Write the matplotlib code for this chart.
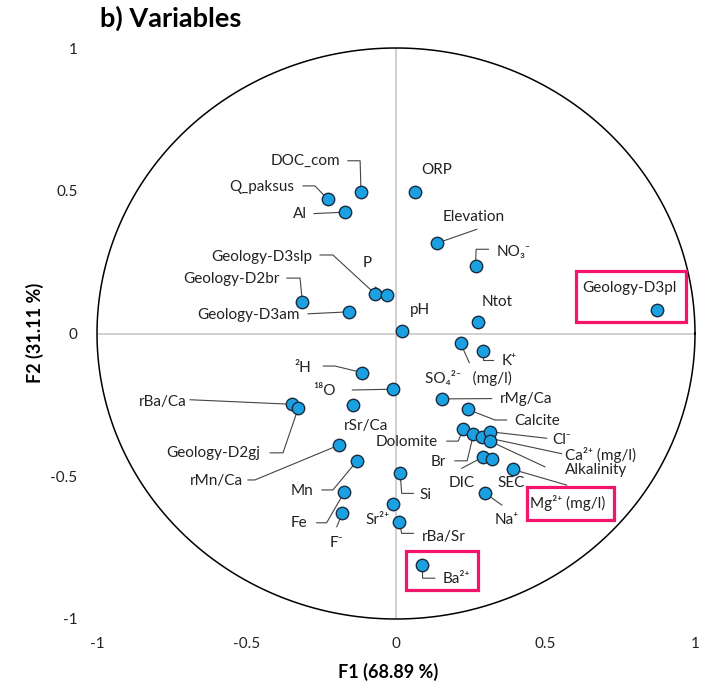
""" PCA correlation circle (variables), F1 vs F2
"""

import numpy as np
import matplotlib
matplotlib.use('Agg')
import matplotlib.pyplot as plt
from matplotlib.patches import Rectangle

plt.rcParams['font.family'] = ['Lato', 'DejaVu Sans']

# Variable names and loadings on F1 / F2
names = ['DOC_com', 'Q_paksus', 'Al', 'Geology-D3slp', 'P', 'Geology-D2br',
         'Geology-D3am', 'pH', 'ORP', 'Elevation', 'NO3', 'Ntot',
         'Geology-D3pl', 'SO4', 'K', 'rMg/Ca', 'Calcite', 'Dolomite', 'Br',
         'Ca', 'Cl', 'Alkalinity', 'DIC', 'SEC', 'Mg', 'Na', '2H', '18O',
         'rSr/Ca', 'rBa/Ca', 'Geology-D2gj', 'rMn/Ca', 'Mn', 'Fe', 'F',
         'Si', 'Sr', 'rBa/Sr', 'Ba']
f1 = [-0.117, -0.228, -0.171, -0.070, -0.031, -0.313,
      -0.156, 0.020, 0.064, 0.136, 0.266, 0.275,
      0.874, 0.216, 0.290, 0.154, 0.240, 0.225, 0.259,
      0.287, 0.314, 0.314, 0.292, 0.320, 0.390, 0.299, -0.113, -0.011,
      -0.143, -0.347, -0.327, -0.191, -0.131, -0.173, -0.180,
      0.014, -0.009, 0.011, 0.088]
f2 = [0.495, 0.470, 0.425, 0.139, 0.135, 0.109,
      0.076, 0.009, 0.495, 0.316, 0.235, 0.039,
      0.081, -0.034, -0.060, -0.229, -0.266, -0.334, -0.353,
      -0.361, -0.344, -0.377, -0.432, -0.440, -0.476, -0.560, -0.137, -0.195,
      -0.250, -0.248, -0.262, -0.391, -0.447, -0.556, -0.630,
      -0.490, -0.598, -0.659, -0.811]

ticks = [-1, -0.5, 0, 0.5, 1]
tick_labels = ['-1', '-0.5', '0', '0.5', '1']
title = 'b) Variables'
xlab = 'F1 (68.89 %)'
ylab = 'F2 (31.11 %)'

# Label layout: text, (x, y), ha, leader vertices (label side first)
layout = {
    'DOC_com': ('DOC_com', (-0.187, 0.605), 'right', [(-0.161, 0.605), (-0.120, 0.605)]),
    'Q_paksus': ('Q_paksus', (-0.341, 0.512), 'right', [(-0.311, 0.517), (-0.271, 0.517)]),
    'Al': ('Al', (-0.298, 0.419), 'right', [(-0.274, 0.420)]),
    'Geology-D3slp': ('Geology-D3slp', (-0.281, 0.269), 'right', [(-0.254, 0.275), (-0.211, 0.275)]),
    'P': ('P', (-0.095, 0.246), 'center', [(-0.070, 0.163)]),
    'Geology-D2br': ('Geology-D2br', (-0.388, 0.190), 'right', [(-0.365, 0.194), (-0.321, 0.194)]),
    'Geology-D3am': ('Geology-D3am', (-0.321, 0.065), 'right', [(-0.294, 0.069)]),
    'pH': ('pH', (0.047, 0.082), 'left', []),
    'ORP': ('ORP', (0.086, 0.573), 'left', []),
    'Elevation': ('Elevation', (0.157, 0.409), 'left', [(0.270, 0.365)]),
    'NO3': ('NO\u2083\u207b', (0.337, 0.287), 'left', [(0.309, 0.295), (0.268, 0.295)]),
    'Ntot': ('Ntot', (0.287, 0.109), 'left', []),
    'Geology-D3pl': ('Geology-D3pl', (0.624, 0.158), 'left', []),
    'SO4': ('SO\u2084\u00b2\u207b   (mg/l)', (0.241, -0.157), 'center', [(0.245, -0.102)]),
    'K': ('K\u207a', (0.354, -0.095), 'left', [(0.325, -0.093), (0.290, -0.093)]),
    'rMg/Ca': ('rMg/Ca', (0.348, -0.229), 'left', [(0.320, -0.228)]),
    'Calcite': ('Calcite', (0.395, -0.306), 'left', [(0.370, -0.303), (0.331, -0.303)]),
    'Dolomite': ('Dolomite', (0.140, -0.380), 'right', [(0.170, -0.377), (0.208, -0.377)]),
    'Br': ('Br', (0.167, -0.449), 'right', [(0.197, -0.446), (0.238, -0.446)]),
    'Ca': ('Ca\u00b2\u207a (mg/l)', (0.565, -0.424), 'left', [(0.554, -0.421)]),
    'Cl': ('Cl\u207b', (0.521, -0.373), 'left', [(0.504, -0.367)]),
    'Alkalinity': ('Alkalinity', (0.565, -0.478), 'left', [(0.498, -0.467)]),
    'DIC': ('DIC', (0.264, -0.524), 'right', [(0.220, -0.472)]),
    'SEC': ('SEC', (0.338, -0.524), 'left', []),
    'Mg': ('Mg\u00b2\u207a (mg/l)', (0.448, -0.593), 'left', [(0.571, -0.531)]),
    'Na': ('Na\u207a', (0.331, -0.653), 'left', [(0.354, -0.601)]),
    '2H': ('\u00b2H', (-0.284, -0.121), 'right', [(-0.243, -0.114), (-0.204, -0.114)]),
    '18O': ('\u00b9\u2078O', (-0.201, -0.201), 'right', [(-0.146, -0.198)]),
    'rSr/Ca': ('rSr/Ca', (-0.100, -0.324), 'center', []),
    'rBa/Ca': ('rBa/Ca', (-0.699, -0.239), 'right', [(-0.689, -0.232)]),
    'Geology-D2gj': ('Geology-D2gj', (-0.455, -0.420), 'right', [(-0.421, -0.418), (-0.378, -0.418)]),
    'rMn/Ca': ('rMn/Ca', (-0.512, -0.517), 'right', [(-0.495, -0.513), (-0.472, -0.513)]),
    'Mn': ('Mn', (-0.278, -0.551), 'right', [(-0.248, -0.548), (-0.211, -0.548)]),
    'Fe': ('Fe', (-0.298, -0.664), 'right', [(-0.265, -0.663), (-0.232, -0.663)]),
    'F': ('F\u207b', (-0.199, -0.733), 'center', [(-0.198, -0.677)]),
    'Si': ('Si', (0.080, -0.566), 'left', [(0.058, -0.560), (0.019, -0.560)]),
    'Sr': ('Sr\u00b2\u207a', (-0.020, -0.653), 'right', []),
    'rBa/Sr': ('rBa/Sr', (0.086, -0.712), 'left', [(0.058, -0.700), (0.019, -0.700)]),
    'Ba': ('Ba\u00b2\u207a', (0.157, -0.860), 'left', [(0.130, -0.857), (0.089, -0.857)]),
}
# Highlight boxes: (x0, x1, y0, y1)
boxes = [(0.602, 0.970, 0.041, 0.220),
         (0.437, 0.730, -0.653, -0.537),
         (0.033, 0.273, -0.898, -0.761)]

fig = plt.figure(figsize=(7.1, 6.85), dpi=100)
ax = fig.add_axes([97 / 710., 1 - 619 / 685., 598 / 710., 571 / 685.])
ax.set_xlim(-1, 1)
ax.set_ylim(-1, 1)
for s in ax.spines.values():
    s.set_visible(False)
ax.set_xticks(ticks)
ax.set_xticklabels(tick_labels)
ax.set_yticks(ticks)
ax.set_yticklabels(tick_labels)
ax.tick_params(length=0, labelsize=11, colors='#222222')
ax.tick_params(axis='x', pad=13)
ax.tick_params(axis='y', pad=14)

# Axes cross and circle
ax.axhline(0, color='#c8c8c8', lw=1.2, zorder=0)
ax.axvline(0, color='#c8c8c8', lw=1.2, zorder=0)
th = np.linspace(0, 2 * np.pi, 500)
ax.plot(np.cos(th), np.sin(th), color='black', lw=1.1, clip_on=False)

# Leader lines and labels
for nm, x, y in zip(names, f1, f2):
    txt, pos, ha, verts = layout[nm]
    if verts:
        pts = verts + [(x, y)]
        ax.plot([p[0] for p in pts], [p[1] for p in pts], color='#444444',
                lw=0.8, zorder=2)
    ax.text(pos[0], pos[1], txt, ha=ha, va='center', fontsize=11,
            color='#222222')

ax.scatter(f1, f2, s=80, facecolor='#1ba1e2', edgecolor='#1a2b40',
           linewidth=1.0, zorder=3)

for x0, x1, y0, y1 in boxes:
    ax.add_patch(Rectangle((x0, y0), x1 - x0, y1 - y0, fill=False,
                           edgecolor='#f5146b', lw=2.3, zorder=4,
                           clip_on=False))

fig.text(100 / 710., 1 - 18 / 685., title, fontsize=19.5, fontweight='bold',
         ha='left', va='center')
fig.text(388 / 710., 1 - 672 / 685., xlab, fontsize=13, fontweight='bold',
         ha='center', va='center')
fig.text(35 / 710., 1 - 333 / 685., ylab, fontsize=13, fontweight='bold',
         ha='center', va='center', rotation=90)

plt.savefig('out.png', dpi=100)
